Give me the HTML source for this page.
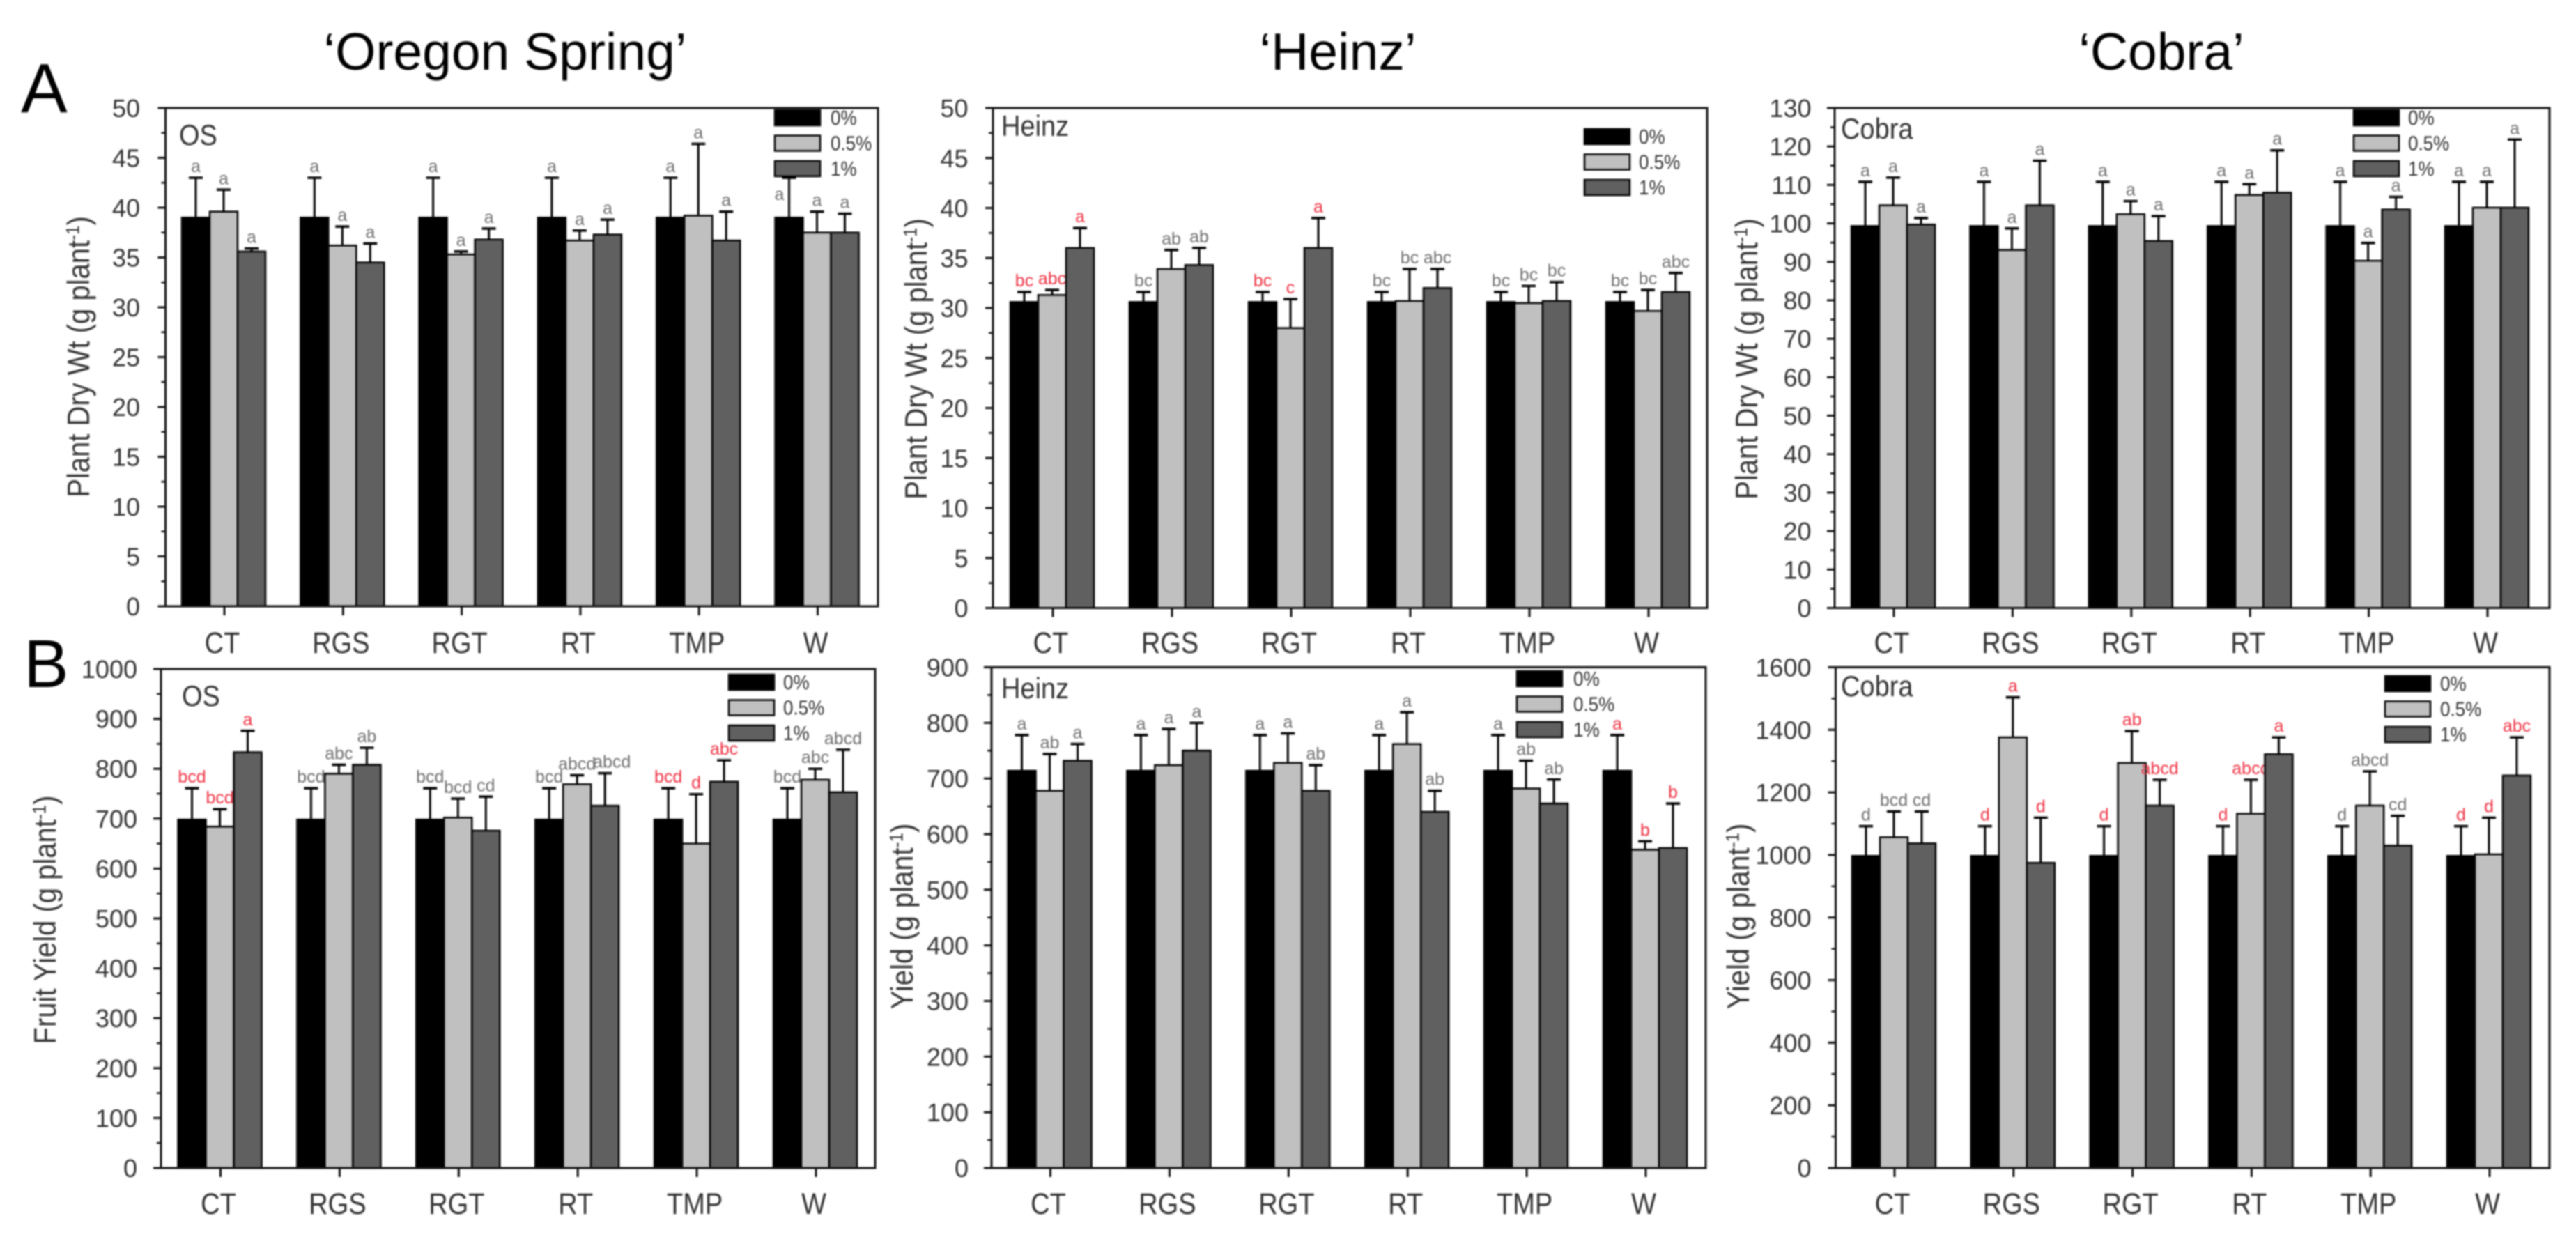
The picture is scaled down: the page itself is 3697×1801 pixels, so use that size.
<!DOCTYPE html>
<html lang="en">
<head>
<meta charset="utf-8">
<title>Plant dry weight and fruit yield by cultivar</title>
<style>
html,body{margin:0;padding:0;background:#fff;width:3697px;height:1801px;overflow:hidden}
svg{display:block;filter:blur(1px)}
text{font-family:"Liberation Sans",Arial,sans-serif}
</style>
</head>
<body>
<svg id="figure" xmlns="http://www.w3.org/2000/svg" width="3697" height="1801" viewBox="0 0 3697 1801">
  <rect width="3697" height="1801" fill="#fff"/>
  <text x="725" y="100" font-size="75" text-anchor="middle" fill="#000">‘Oregon Spring’</text>
  <text x="1920" y="100" font-size="75" text-anchor="middle" fill="#000">‘Heinz’</text>
  <text x="3102" y="100" font-size="75" text-anchor="middle" fill="#000">‘Cobra’</text>
  <text x="30" y="161" font-size="100" fill="#000">A</text>
  <text x="34" y="986" font-size="97" fill="#000">B</text>
</svg>
<script>
// Shared categories and legend
const categories = ['CT', 'RGS', 'RGT', 'RT', 'TMP', 'W'];
const seriesNames = ['0%', '0.5%', '1%'];

// Oregon Spring, plant dry weight
const osDryTicks = [0, 5, 10, 15, 20, 25, 30, 35, 40, 45, 50];
const osDryMean0 = [39, 39, 39, 39, 39, 39];
const osDryMean05 = [39.6, 36.2, 35.3, 36.7, 39.2, 37.5];
const osDryMean1 = [35.6, 34.5, 36.8, 37.3, 36.7, 37.5];
const osDryUpper0 = [43, 43, 43, 43, 43, 43];
const osDryUpper05 = [41.8, 38.1, 35.6, 37.7, 46.4, 39.6];
const osDryUpper1 = [35.9, 36.4, 37.9, 38.8, 39.6, 39.4];
const osDryLetters0 = ['a', 'a', 'a', 'a', 'a', 'a'];
const osDryLetters05 = ['a', 'a', 'a', 'a', 'a', 'a'];
const osDryLetters1 = ['a', 'a', 'a', 'a', 'a', 'a'];
const osDryRed = [];

// Heinz, plant dry weight
const heinzDryTicks = [0, 5, 10, 15, 20, 25, 30, 35, 40, 45, 50];
const heinzDryMean0 = [30.6, 30.6, 30.6, 30.6, 30.6, 30.6];
const heinzDryMean05 = [31.3, 33.9, 28, 30.7, 30.5, 29.7];
const heinzDryMean1 = [36, 34.3, 36, 32, 30.7, 31.6];
const heinzDryUpper0 = [31.6, 31.6, 31.6, 31.6, 31.6, 31.6];
const heinzDryUpper05 = [31.8, 35.8, 30.9, 33.9, 32.2, 31.8];
const heinzDryUpper1 = [38, 36, 39, 33.9, 32.6, 33.5];
const heinzDryLetters0 = ['bc', 'bc', 'bc', 'bc', 'bc', 'bc'];
const heinzDryLetters05 = ['abc', 'ab', 'c', 'bc', 'bc', 'bc'];
const heinzDryLetters1 = ['a', 'ab', 'a', 'abc', 'bc', 'abc'];
const heinzDryRed = ['CT', 'RGT'];

// Cobra, plant dry weight
const cobraDryTicks = [0, 10, 20, 30, 40, 50, 60, 70, 80, 90, 100, 110, 120, 130];
const cobraDryMean0 = [99.3, 99.3, 99.3, 99.3, 99.3, 99.3];
const cobraDryMean05 = [104.7, 93.1, 102.4, 107.4, 90.3, 104.1];
const cobraDryMean1 = [99.7, 104.7, 95.4, 108, 103.6, 104.1];
const cobraDryUpper0 = [110.8, 110.8, 110.8, 110.8, 110.8, 110.8];
const cobraDryUpper05 = [111.9, 98.7, 105.8, 110.2, 94.9, 110.8];
const cobraDryUpper1 = [101.4, 116.3, 101.9, 119, 106.9, 121.8];
const cobraDryLetters0 = ['a', 'a', 'a', 'a', 'a', 'a'];
const cobraDryLetters05 = ['a', 'a', 'a', 'a', 'a', 'a'];
const cobraDryLetters1 = ['a', 'a', 'a', 'a', 'a', 'a'];
const cobraDryRed = [];

// Oregon Spring, fruit yield
const osYieldTicks = [0, 100, 200, 300, 400, 500, 600, 700, 800, 900, 1000];
const osYieldMean0 = [698, 698, 698, 698, 698, 698];
const osYieldMean05 = [684, 790, 702, 769, 650, 778];
const osYieldMean1 = [833, 808, 676, 726, 774, 753];
const osYieldUpper0 = [761, 761, 761, 761, 761, 761];
const osYieldUpper05 = [719, 808, 740, 787, 749, 800];
const osYieldUpper1 = [876, 842, 744, 791, 817, 838];
const osYieldLetters0 = ['bcd', 'bcd', 'bcd', 'bcd', 'bcd', 'bcd'];
const osYieldLetters05 = ['bcd', 'abc', 'bcd', 'abcd', 'd', 'abc'];
const osYieldLetters1 = ['a', 'ab', 'cd', 'abcd', 'abc', 'abcd'];
const osYieldRed = ['CT', 'TMP'];

// Heinz, yield
const heinzYieldTicks = [0, 100, 200, 300, 400, 500, 600, 700, 800, 900];
const heinzYieldMean0 = [714, 714, 714, 714, 714, 714];
const heinzYieldMean05 = [678, 724, 728, 762, 682, 572];
const heinzYieldMean1 = [732, 750, 678, 640, 655, 575];
const heinzYieldUpper0 = [778, 778, 778, 778, 778, 778];
const heinzYieldUpper05 = [744, 789, 781, 819, 732, 587];
const heinzYieldUpper1 = [762, 800, 724, 678, 698, 655];
const heinzYieldLetters0 = ['a', 'a', 'a', 'a', 'a', 'a'];
const heinzYieldLetters05 = ['ab', 'a', 'a', 'a', 'ab', 'b'];
const heinzYieldLetters1 = ['a', 'a', 'ab', 'ab', 'ab', 'b'];
const heinzYieldRed = ['W'];

// Cobra, yield
const cobraYieldTicks = [0, 200, 400, 600, 800, 1000, 1200, 1400, 1600];
const cobraYieldMean0 = [997, 997, 997, 997, 997, 997];
const cobraYieldMean05 = [1057, 1376, 1294, 1132, 1158, 1002];
const cobraYieldMean1 = [1037, 975, 1158, 1322, 1030, 1254];
const cobraYieldUpper0 = [1092, 1092, 1092, 1092, 1092, 1092];
const cobraYieldUpper05 = [1139, 1504, 1396, 1240, 1267, 1119];
const cobraYieldUpper1 = [1139, 1119, 1240, 1376, 1125, 1376];
const cobraYieldLetters0 = ['d', 'd', 'd', 'd', 'd', 'd'];
const cobraYieldLetters05 = ['bcd', 'a', 'ab', 'abcd', 'abcd', 'd'];
const cobraYieldLetters1 = ['cd', 'd', 'abcd', 'a', 'cd', 'abc'];
const cobraYieldRed = ['RGS', 'RGT', 'RT', 'W'];

const seriesFills = ['#000000', '#c0c0c0', '#606060'];
const SVG_NS = 'http://www.w3.org/2000/svg';
const figure = document.getElementById('figure');

const panels = [
  { key: 'os-dry', tag: 'OS', tagX: 257, tagY: 208, yTitle: 'Plant Dry Wt (g plant', titleX: 128, titleY: 512,
    left: 237.5, right: 1260, top: 155, bottom: 870, first: 322, step: 170.3, labelRight: 201, catY: 937,
    legendX: 1112, legendTop: 158, textX: 1192,
    ticks: osDryTicks, means: [osDryMean0, osDryMean05, osDryMean1], uppers: [osDryUpper0, osDryUpper05, osDryUpper1],
    letters: [osDryLetters0, osDryLetters05, osDryLetters1], red: osDryRed, nudgeCat: 'W', nudgeSeries: 0, nudgeX: -14, nudgeY: 40 },
  { key: 'heinz-dry', tag: 'Heinz', tagX: 1437, tagY: 195, yTitle: 'Plant Dry Wt (g plant', titleX: 1330, titleY: 515,
    left: 1425, right: 2450, top: 155, bottom: 872.5, first: 1511, step: 171, labelRight: 1389.5, catY: 937,
    legendX: 2274, legendTop: 185, textX: 2352,
    ticks: heinzDryTicks, means: [heinzDryMean0, heinzDryMean05, heinzDryMean1], uppers: [heinzDryUpper0, heinzDryUpper05, heinzDryUpper1],
    letters: [heinzDryLetters0, heinzDryLetters05, heinzDryLetters1], red: heinzDryRed },
  { key: 'cobra-dry', tag: 'Cobra', tagX: 2642, tagY: 199, yTitle: 'Plant Dry Wt (g plant', titleX: 2522, titleY: 515,
    left: 2633, right: 3659, top: 155, bottom: 872.5, first: 2718, step: 170.4, labelRight: 2599.5, catY: 937,
    legendX: 3378, legendTop: 158, textX: 3456,
    ticks: cobraDryTicks, means: [cobraDryMean0, cobraDryMean05, cobraDryMean1], uppers: [cobraDryUpper0, cobraDryUpper05, cobraDryUpper1],
    letters: [cobraDryLetters0, cobraDryLetters05, cobraDryLetters1], red: cobraDryRed },
  { key: 'os-yield', tag: 'OS', tagX: 261, tagY: 1013, yTitle: 'Fruit Yield (g plant', titleX: 80, titleY: 1320,
    left: 231, right: 1256, top: 960, bottom: 1676, first: 316.5, step: 170.9, labelRight: 197, catY: 1742,
    legendX: 1046, legendTop: 968, textX: 1124,
    ticks: osYieldTicks, means: [osYieldMean0, osYieldMean05, osYieldMean1], uppers: [osYieldUpper0, osYieldUpper05, osYieldUpper1],
    letters: [osYieldLetters0, osYieldLetters05, osYieldLetters1], red: osYieldRed, nudgeCat: 'RT', nudgeSeries: 2, nudgeX: 10, nudgeY: 0 },
  { key: 'heinz-yield', tag: 'Heinz', tagX: 1437, tagY: 1002, yTitle: 'Yield (g plant', titleX: 1310, titleY: 1315,
    left: 1423, right: 2448, top: 957.5, bottom: 1676, first: 1507.5, step: 170.9, labelRight: 1390, catY: 1742,
    legendX: 2177, legendTop: 963, textX: 2258,
    ticks: heinzYieldTicks, means: [heinzYieldMean0, heinzYieldMean05, heinzYieldMean1], uppers: [heinzYieldUpper0, heinzYieldUpper05, heinzYieldUpper1],
    letters: [heinzYieldLetters0, heinzYieldLetters05, heinzYieldLetters1], red: heinzYieldRed },
  { key: 'cobra-yield', tag: 'Cobra', tagX: 2642, tagY: 999, yTitle: 'Yield (g plant', titleX: 2510, titleY: 1315,
    left: 2634.5, right: 3659, top: 957.5, bottom: 1676, first: 2719, step: 170.8, labelRight: 2599.5, catY: 1742,
    legendX: 3423, legendTop: 970, textX: 3502,
    ticks: cobraYieldTicks, means: [cobraYieldMean0, cobraYieldMean05, cobraYieldMean1], uppers: [cobraYieldUpper0, cobraYieldUpper05, cobraYieldUpper1],
    letters: [cobraYieldLetters0, cobraYieldLetters05, cobraYieldLetters1], red: cobraYieldRed }
];

const BAR_W = 40;
const LEGEND_PITCH = 36.5;

function node(tag, parent, attrs, content) {
  const el = document.createElementNS(SVG_NS, tag);
  Object.keys(attrs).forEach(function (k) { el.setAttribute(k, attrs[k]); });
  if (content !== undefined) el.textContent = content;
  parent.appendChild(el);
  return el;
}

function drawPanel(p) {
  const yMax = p.ticks[p.ticks.length - 1];
  const yScale = function (v) { return p.bottom - (v / yMax) * (p.bottom - p.top); };
  const xCenter = function (i) { return p.first + i * p.step; };

  const group = node('g', figure, {});
  
  

  // Bars and error bars
  p.means.forEach(function (series, s) {
    series.forEach(function (value, i) {
      const barX = xCenter(i) - 1 - 1.5 * BAR_W + s * BAR_W;
      const barTop = yScale(value);
      const mid = barX + BAR_W / 2;
      const upperY = yScale(p.uppers[s][i]);

      const stem = node('line', group, { x1: mid, x2: mid, y1: barTop, y2: upperY, stroke: '#000', 'stroke-width': 3 });
      
      

      const cap = node('line', group, { x1: mid - 10, x2: mid + 10, y1: upperY, y2: upperY, stroke: '#000', 'stroke-width': 3.5 });
      
      

      const bar = node('rect', group, { x: barX, y: barTop, width: BAR_W, height: yScale(0) - barTop, fill: seriesFills[s], stroke: '#000', 'stroke-width': 2.5 });
      
      

      const nudged = p.nudgeCat === categories[i] && p.nudgeSeries === s;
      const letter = node('text', group, {
        x: mid + (nudged ? p.nudgeX : 0),
        y: upperY - 8 + (nudged ? p.nudgeY : 0),
        'font-size': 25,
        'text-anchor': 'middle',
        fill: p.red.indexOf(categories[i]) >= 0 ? '#ee3344' : '#707070'
      }, p.letters[s][i]);
      
      
    });
  });

  // Legend
  seriesNames.forEach(function (name, s) {
    const rowTop = p.legendTop + s * LEGEND_PITCH;
    const swatch = node('rect', group, { x: p.legendX, y: rowTop, width: 65, height: 22, fill: seriesFills[s], stroke: '#000', 'stroke-width': 2.5 });
    
    
    const label = node('text', group, { transform: 'translate(' + p.textX + ',' + (rowTop + 21) + ') scale(1,1.12)', 'font-size': 26, fill: '#333' }, name);
    
    
  });

  // Plot frame
  const frame = node('rect', group, { x: p.left, y: p.top, width: p.right - p.left, height: p.bottom - p.top, fill: 'none', stroke: '#111', 'stroke-width': 3 });
  
  

  // Y axis ticks and labels
  p.ticks.forEach(function (value, i) {
    const y = yScale(value);
    const tick = node('line', group, { x1: p.left - 11, x2: p.left, y1: y, y2: y, stroke: '#111', 'stroke-width': 3 });
    
    
    const tickLabel = node('text', group, { x: p.labelRight, y: y + 13, 'font-size': 36, 'text-anchor': 'end', fill: '#333' }, String(value));
    
    
    if (i < p.ticks.length - 1) {
      const minorY = yScale((value + p.ticks[i + 1]) / 2);
      const minor = node('line', group, { x1: p.left - 6, x2: p.left, y1: minorY, y2: minorY, stroke: '#111', 'stroke-width': 2.5 });
      
      
    }
  });

  // X axis ticks and labels
  categories.forEach(function (cat, i) {
    const x = xCenter(i);
    const tick = node('line', group, { x1: x, x2: x, y1: p.bottom, y2: p.bottom + 13, stroke: '#111', 'stroke-width': 3 });
    
    
    const catLabel = node('text', group, { transform: 'translate(' + (x - 3) + ',' + p.catY + ') scale(1,1.12)', 'font-size': 38, 'text-anchor': 'middle', fill: '#333' }, cat);
    
    
  });

  // Y axis title with superscript
  const title = node('text', group, { transform: 'translate(' + p.titleX + ',' + p.titleY + ') rotate(-90) scale(1,1.12)', 'font-size': 40, 'text-anchor': 'middle', fill: '#333' });
  
  
  node('tspan', title, {}, p.yTitle);
  node('tspan', title, { dy: -13, 'font-size': 24 }, '-1');
  node('tspan', title, { dy: 13 }, ')');

  // Cultivar tag inside the plot
  const tag = node('text', group, { transform: 'translate(' + p.tagX + ',' + p.tagY + ') scale(1,1.1)', 'font-size': 38, fill: '#333' }, p.tag);
  
  
}

panels.forEach(drawPanel);
</script>
</body>
</html>
